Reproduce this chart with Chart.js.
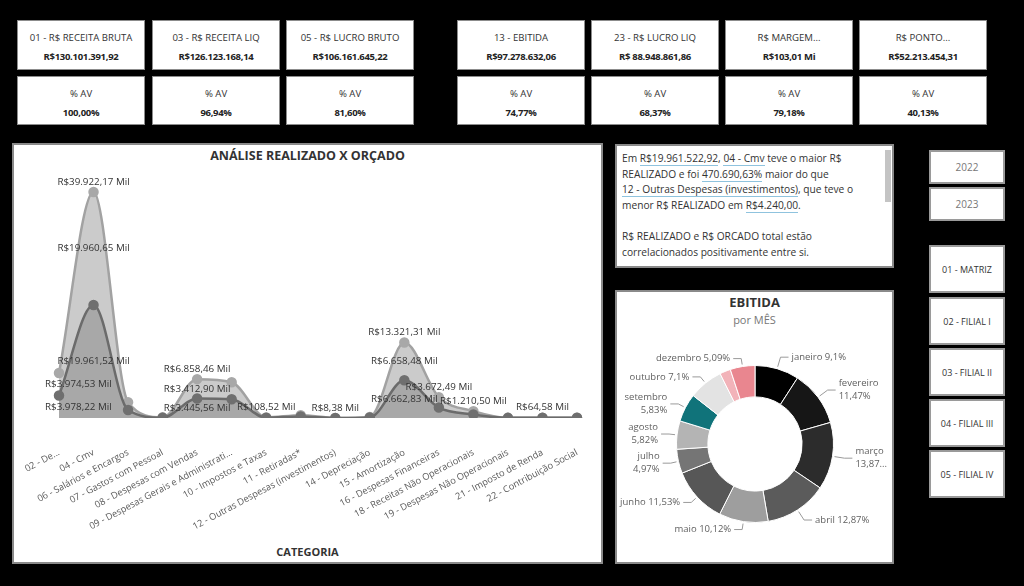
<!DOCTYPE html>
<html lang="pt-BR">
<head>
<meta charset="utf-8">
<title>Análise Realizado x Orçado</title>
<script src="https://cdn.jsdelivr.net/npm/chart.js@4.4.1/dist/chart.umd.min.js"></script>
<style>
    html, body { margin: 0; padding: 0; }
    body {
        width: 1024px; height: 586px; background: #000; position: relative; overflow: hidden;
        font-family: "Segoe UI", "Open Sans", sans-serif; color: #333;
    }
    .caixa { position: absolute; background: #fff; box-sizing: border-box; border: 1px solid #8c8c8c; }
    .cartao .titulo { position: absolute; left: 0; right: 0; top: 10px; text-align: center; font-size: 9.6px; white-space: nowrap; }
    .cartao .valor { position: absolute; left: 0; right: 0; top: 29px; text-align: center; font-size: 9.5px; font-weight: bold; letter-spacing: -0.3px; white-space: nowrap; color: #222; }
    .painel { border: 2px solid #8a8a8a; }
    .botao { display: flex; align-items: center; justify-content: center; font-size: 9px; color: #333; border: 2px solid #9a9a9a; }
    .ano { color: #777; font-size: 10px; }
    #texto { font-size: 10.2px; line-height: 15.6px; padding: 5px 0 0 5px; white-space: nowrap; color: #333; }
    #texto u { text-decoration: none; border-bottom: 1px solid #8fc3de; }
    #rolagem { position: absolute; left: 268px; top: 4px; width: 6px; height: 52px; background: #c4c4c4; }
    .titulo-grafico { position: absolute; text-align: center; font-weight: bold; color: #333; white-space: nowrap; }
</style>
</head>
<body>
<div id="cartoes"></div>

<div class="caixa painel" style="left:12px; top:143px; width:591px; height:421px;">
    <div class="titulo-grafico" style="left:0; right:0; top:2px; font-size:12.5px;">ANÁLISE REALIZADO X ORÇADO</div>
    <div class="titulo-grafico" style="left:0; right:0; top:399px; font-size:11px;">CATEGORIA</div>
</div>
<div style="position:absolute; left:14px; top:168px; width:586px; height:392px;">
    <canvas id="grafico-realizado-orcado"></canvas>
</div>

<div class="caixa painel" id="texto" style="left:615px; top:144px; width:279px; height:124px;">
    Em <u>R$19.961.522,92</u>, <u>04 - Cmv</u> teve o maior R$<br>
    REALIZADO e foi <u>470.690,63%</u> maior do que<br>
    <u>12 - Outras Despesas (investimentos)</u>, que teve o<br>
    menor R$ REALIZADO em <u>R$4.240,00</u>.<br>
    <br>
    R$ REALIZADO e R$ ORCADO total estão<br>
    correlacionados positivamente entre si.
    <div id="rolagem"></div>
</div>

<div class="caixa painel" style="left:615px; top:290px; width:279px; height:274px;">
    <div class="titulo-grafico" style="left:0; right:0; top:1px; font-size:13px;">EBITIDA</div>
    <div class="titulo-grafico" style="left:0; right:0; top:20px; font-size:11px; font-weight:normal; color:#777;">por MÊS</div>
</div>
<div style="position:absolute; left:617px; top:330px; width:276px; height:228px;">
    <canvas id="grafico-ebitida"></canvas>
</div>

<div id="botoes"></div>

<script>
// ---- dados ----
const cartoesTitulos = ['01 - R$ RECEITA BRUTA', '03 - R$ RECEITA LIQ', '05 - R$ LUCRO BRUTO', '13 - EBITIDA', '23 - R$ LUCRO LIQ', 'R$ MARGEM...', 'R$ PONTO...'];
const cartoesValores = ['R$130.101.391,92', 'R$126.123.168,14', 'R$106.161.645,22', 'R$97.278.632,06', 'R$ 88.948.861,86', 'R$103,01 Mi', 'R$52.213.454,31'];
const cartoesAV = ['100,00%', '96,94%', '81,60%', '74,77%', '68,37%', '79,18%', '40,13%'];

const categorias = [
    '02 - De...', '04 - Cmv', '06 - Salários e Encargos', '07 - Gastos com Pessoal',
    '08 - Despesas com Vendas', '09 - Despesas Gerais e Administrati...', '10 - Impostos e Taxas',
    '11 - Retiradas*', '12 - Outras Despesas (investimentos)', '14 - Depreciação', '15 - Amortização',
    '16 - Despesas Financeiras', '18 - Receitas Não Operacionais', '19 - Despesas Não Operacionais',
    '21 - Imposto de Renda', '22 - Contribuição Social'
];
// valores em R$ Mil
const realizado = [3978.22, 19961.52, 1400, 60, 3445.56, 3300, 54.30, 260, 4.24, 95, 6662.83, 1840, 606, 25, 32.30, 30];
const orcado    = [3974.53, 19960.65, 1400, 55, 3412.90, 3000, 54.22, 240, 4.14, 90, 6658.48, 1832.49, 604.50, 22, 32.28, 28];

// em quais categorias aparece cada rótulo
const rotuloTotal = [1, 4, 6, 8, 10, 11, 12, 14];
const rotuloOrcado = [0, 1, 4, 10];
const rotuloRealizado = [0, 1, 4, 10];

const meses = ['janeiro', 'fevereiro', 'março', 'abril', 'maio', 'junho', 'julho', 'agosto', 'setembro', 'outubro', 'novembro', 'dezembro'];
const ebitidaPct = [9.1, 11.47, 13.87, 12.87, 10.12, 11.53, 4.97, 5.82, 5.83, 7.1, 2.23, 5.09];
const coresMeses = ['#000000', '#161616', '#2c2c2c', '#5b5b5b', '#9e9e9e', '#575757', '#757575', '#b4b4b4', '#10737a', '#e3e3e3', '#f2b3b9', '#e9868f'];
const mesesSemRotulo = ['novembro'];
const mesesDuasLinhas = ['fevereiro', 'março', 'julho', 'agosto', 'setembro'];
const mesesTruncados = ['março'];

const anos = ['2022', '2023'];
const filiais = ['01 - MATRIZ', '02 - FILIAL I', '03 - FILIAL II', '04 - FILIAL III', '05 - FILIAL IV'];

// ---- interface ----
document.addEventListener('DOMContentLoaded', () => {
    montarCartoes();
    montarBotoes();
    Chart.defaults.font.family = '"Segoe UI", "Open Sans", sans-serif';
    Chart.defaults.animation = false;
    graficoRealizadoOrcado();
    graficoEbitida();
});

function montarCartoes() {
    const lefts = [17, 152, 286, 457, 591, 725, 859];
    const alvo = document.getElementById('cartoes');
    cartoesTitulos.forEach((t, i) => {
        alvo.insertAdjacentHTML('beforeend',
            `<div class="caixa cartao" style="left:${lefts[i]}px; top:20px; width:128px; height:50px;">
                <div class="titulo">${t}</div><div class="valor">${cartoesValores[i]}</div></div>
             <div class="caixa cartao" style="left:${lefts[i]}px; top:76px; width:128px; height:49px;">
                <div class="titulo">% AV</div><div class="valor">${cartoesAV[i]}</div></div>`);
    });
}

function montarBotoes() {
    const alvo = document.getElementById('botoes');
    const topoAnos = [150, 187];
    anos.forEach((a, i) => {
        alvo.insertAdjacentHTML('beforeend',
            `<div class="caixa botao ano" style="left:929px; top:${topoAnos[i]}px; width:76px; height:34px;">${a}</div>`);
    });
    const topoFiliais = [245, 297, 348, 399, 450];
    filiais.forEach((f, i) => {
        alvo.insertAdjacentHTML('beforeend',
            `<div class="caixa botao" style="left:929px; top:${topoFiliais[i]}px; width:76px; height:48px;">${f}</div>`);
    });
}

function formatarMil(v) {
    return 'R$' + v.toLocaleString('pt-BR', { minimumFractionDigits: 2, maximumFractionDigits: 2 }) + ' Mil';
}

// rótulos de dados do gráfico de área empilhada
const pluginRotulosArea = {
    id: 'rotulosArea',
    afterDatasetsDraw(chart) {
        const ctx = chart.ctx;
        const baixo = chart.getDatasetMeta(0).data;
        const cima = chart.getDatasetMeta(1).data;
        const base = chart.scales.y.getPixelForValue(0);
        const minX = chart.chartArea.left - 14;
        ctx.save();
        ctx.font = '9.8px "Segoe UI", "Open Sans", sans-serif';
        ctx.fillStyle = '#333';
        ctx.textBaseline = 'middle';
        const escrever = (txt, x, y) => {
            const w = ctx.measureText(txt).width;
            let x0 = Math.max(x - w / 2, minX);
            ctx.fillText(txt, x0, y);
        };
        rotuloTotal.forEach(i => {
            escrever(formatarMil(realizado[i] + orcado[i]), cima[i].x, cima[i].y - 10);
        });
        rotuloOrcado.forEach(i => {
            escrever(formatarMil(orcado[i]), cima[i].x, (cima[i].y + baixo[i].y) / 2);
        });
        rotuloRealizado.forEach(i => {
            escrever(formatarMil(realizado[i]), baixo[i].x, (baixo[i].y + base) / 2);
        });
        ctx.restore();
    }
};

function graficoRealizadoOrcado() {
    new Chart(document.getElementById('grafico-realizado-orcado'), {
        type: 'line',
        data: {
            labels: categorias,
            datasets: [
                {
                    label: 'R$ REALIZADO',
                    data: realizado,
                    borderColor: '#6b6b6b',
                    backgroundColor: '#a8a8a8',
                    pointBackgroundColor: '#6f6f6f',
                    pointBorderColor: '#6f6f6f',
                    borderWidth: 2.5,
                    pointRadius: 4,
                    fill: 'origin',
                    cubicInterpolationMode: 'monotone'
                },
                {
                    label: 'R$ ORCADO',
                    data: orcado,
                    borderColor: '#a2a2a2',
                    backgroundColor: '#cbcbcb',
                    pointBackgroundColor: '#a8a8a8',
                    pointBorderColor: '#a8a8a8',
                    borderWidth: 2.5,
                    pointRadius: 4,
                    fill: '-1',
                    cubicInterpolationMode: 'monotone'
                }
            ]
        },
        options: {
            responsive: true,
            maintainAspectRatio: false,
            layout: { padding: { left: 45, right: 23, top: 4, bottom: 0 } },
            plugins: { legend: { display: false }, tooltip: { enabled: false } },
            scales: {
                y: { stacked: true, display: false, min: 0, max: 43000 },
                x: {
                    grid: { display: false },
                    border: { display: false },
                    ticks: {
                        color: '#5a5a5a',
                        font: { size: 9.3 },
                        padding: 21,
                        minRotation: 28,
                        maxRotation: 28,
                        autoSkip: false
                    },
                    afterFit(scale) {
                        scale.height = 142;
                        scale.paddingLeft = 0;
                        scale.paddingRight = 0;
                    }
                }
            }
        },
        plugins: [pluginRotulosArea]
    });
}

// rótulos externos com linha guia para a rosca
const pluginRotulosRosca = {
    id: 'rotulosRosca',
    afterDatasetsDraw(chart) {
        const ctx = chart.ctx;
        const arcos = chart.getDatasetMeta(0).data;
        ctx.save();
        ctx.font = '9.5px "Segoe UI", "Open Sans", sans-serif';
        ctx.textBaseline = 'middle';
        arcos.forEach((arco, i) => {
            const mes = meses[i];
            if (mesesSemRotulo.includes(mes)) return;
            const ang = (arco.startAngle + arco.endAngle) / 2;
            const r = arco.outerRadius;
            const cos = Math.cos(ang), sin = Math.sin(ang);
            const lado = cos >= 0 ? 1 : -1;
            const ext = lado > 0 ? 12 : 8;
            const p0 = { x: arco.x + cos * (r + 2), y: arco.y + sin * (r + 2) };
            const p1 = { x: arco.x + cos * (r + ext), y: arco.y + sin * (r + ext) };
            const p2 = { x: p1.x + lado * 8, y: p1.y };
            ctx.strokeStyle = '#9a9a9a';
            ctx.lineWidth = 1;
            ctx.beginPath();
            ctx.moveTo(p0.x, p0.y);
            ctx.lineTo(p1.x, p1.y);
            ctx.lineTo(p2.x, p2.y);
            ctx.stroke();

            let pct = ebitidaPct[i].toLocaleString('pt-BR', { maximumFractionDigits: 2 }) + '%';
            if (mesesTruncados.includes(mes)) pct = pct.replace('%', '...');
            const linhas = mesesDuasLinhas.includes(mes) ? [mes, pct] : [mes + ' ' + pct];
            ctx.fillStyle = '#5f5f5f';
            ctx.textAlign = lado > 0 ? 'left' : 'right';
            const tx = p2.x + lado * 3;
            const y0 = p1.y - (linhas.length - 1) * 6.5;
            linhas.forEach((l, k) => ctx.fillText(l, tx, y0 + k * 13));
        });
        ctx.restore();
    }
};

function graficoEbitida() {
    new Chart(document.getElementById('grafico-ebitida'), {
        type: 'doughnut',
        data: {
            labels: meses,
            datasets: [{
                data: ebitidaPct,
                backgroundColor: coresMeses,
                borderColor: '#ffffff',
                borderWidth: 1
            }]
        },
        options: {
            responsive: true,
            maintainAspectRatio: false,
            cutout: '60%',
            layout: { padding: 35 },
            plugins: { legend: { display: false }, tooltip: { enabled: false } }
        },
        plugins: [pluginRotulosRosca]
    });
}
</script>
</body>
</html>
